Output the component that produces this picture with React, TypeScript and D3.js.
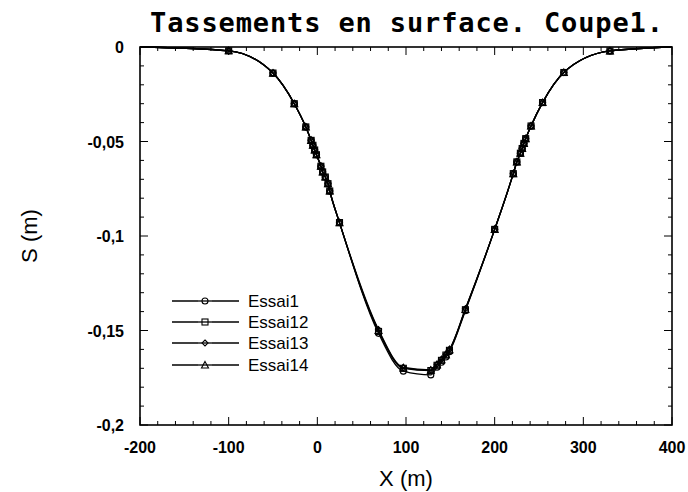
import React from 'react';
import * as d3 from 'd3';

// Surface settlement profiles, section 1
const xPositions = [
  -200, -100, -50, -26, -13, -7, -5, -3, -1, 4, 6, 9, 12, 14, 25, 69, 97, 128,
  135, 140, 145, 149, 167, 200, 221, 225, 229, 231, 233, 235, 241, 254, 278, 330, 400,
];

const essai1 = [
  0, -0.002, -0.0138, -0.03, -0.0423, -0.0494, -0.052, -0.0545, -0.057, -0.0631, -0.0661,
  -0.0688, -0.0723, -0.0762, -0.0929, -0.1515, -0.1715, -0.1735, -0.1694, -0.1668, -0.164,
  -0.1612, -0.1395, -0.0965, -0.067, -0.0608, -0.0562, -0.0537, -0.051, -0.0485, -0.0418,
  -0.0294, -0.0135, -0.0021, 0,
];
const essai12 = [
  0, -0.002, -0.0138, -0.03, -0.0423, -0.0494, -0.052, -0.0545, -0.057, -0.0631, -0.0661,
  -0.0688, -0.0723, -0.0762, -0.0929, -0.1505, -0.17, -0.1712, -0.1684, -0.1658, -0.163,
  -0.1605, -0.139, -0.0965, -0.067, -0.0608, -0.0562, -0.0537, -0.051, -0.0485, -0.0418,
  -0.0294, -0.0135, -0.0021, 0,
];
const essai13 = [
  0, -0.002, -0.0138, -0.03, -0.0423, -0.0494, -0.052, -0.0545, -0.057, -0.0631, -0.0661,
  -0.0688, -0.0723, -0.0762, -0.0929, -0.1495, -0.1695, -0.1708, -0.1678, -0.1652, -0.1625,
  -0.16, -0.1385, -0.0965, -0.067, -0.0608, -0.0562, -0.0537, -0.051, -0.0485, -0.0418,
  -0.0294, -0.0135, -0.0021, 0,
];
const essai14 = [
  0, -0.002, -0.0138, -0.03, -0.0423, -0.0494, -0.052, -0.0545, -0.057, -0.0631, -0.0661,
  -0.0688, -0.0723, -0.0762, -0.0929, -0.15, -0.1698, -0.171, -0.1681, -0.1655, -0.1628,
  -0.1602, -0.1388, -0.0965, -0.067, -0.0608, -0.0562, -0.0537, -0.051, -0.0485, -0.0418,
  -0.0294, -0.0135, -0.0021, 0,
];

const seriesNames = ['Essai1', 'Essai12', 'Essai13', 'Essai14'];
const seriesValues = [essai1, essai12, essai13, essai14];
const seriesSymbols = ['circle', 'square', 'diamond', 'triangle'];

const xTicks = [-200, -100, 0, 100, 200, 300, 400];
const yTicks = [0, -0.05, -0.1, -0.15, -0.2];
const yTickLabels = ['0', '-0,05', '-0,1', '-0,15', '-0,2'];

const title = 'Tassements en surface. Coupe1.';

const width = 688;
const height = 492;
const margin = { top: 47, right: 16, bottom: 67, left: 140 };

function Marker({ kind, x, y }: { kind: string; x: number; y: number }) {
  const s = 3;
  const common = { fill: 'none', stroke: '#000', strokeWidth: 1.1 };
  if (kind === 'circle') return <circle cx={x} cy={y} r={s} {...common} />;
  if (kind === 'square')
    return <rect x={x - s} y={y - s} width={2 * s} height={2 * s} {...common} />;
  if (kind === 'diamond')
    return (
      <path d={`M${x},${y - s}L${x + s},${y}L${x},${y + s}L${x - s},${y}Z`} {...common} />
    );
  return (
    <path
      d={`M${x},${y - s - 0.5}L${x + s + 0.5},${y + s}L${x - s - 0.5},${y + s}Z`}
      {...common}
    />
  );
}

export default function App() {
  const innerW = width - margin.left - margin.right;
  const innerH = height - margin.top - margin.bottom;

  const x = d3.scaleLinear().domain([-200, 400]).range([margin.left, margin.left + innerW]);
  const y = d3.scaleLinear().domain([-0.2, 0]).range([margin.top + innerH, margin.top]);

  const line = d3
    .line<number>()
    .x((_, i) => x(xPositions[i]))
    .y((d) => y(d))
    .curve(d3.curveMonotoneX);

  const xMinor = d3.range(-200, 401, 20);
  const yMinor = d3.range(0, 21).map((k) => -k * 0.01);

  const x0 = margin.left;
  const x1 = margin.left + innerW;
  const y0 = margin.top;
  const y1 = margin.top + innerH;

  const legendY = [301, 322, 343, 365];

  return (
    <svg width={width} height={height} style={{ position: 'absolute', left: 0, top: 0, background: '#fff' }}>
      <text
        x={150}
        y={32}
        fontFamily="DejaVu Sans Mono"
        fontWeight="bold"
        fontSize={27}
        textLength={513}
      >
        {title}
      </text>

      {/* ticks, inward on all four sides */}
      <g stroke="#000" strokeWidth={1}>
        {xMinor.map((t) => {
          const len = t % 100 === 0 ? 8 : 4;
          return (
            <g key={'xt' + t}>
              <line x1={x(t)} x2={x(t)} y1={y1} y2={y1 - len} />
              <line x1={x(t)} x2={x(t)} y1={y0} y2={y0 + len} />
            </g>
          );
        })}
        {yMinor.map((t, i) => {
          const len = i % 5 === 0 ? 8 : 4;
          return (
            <g key={'yt' + i}>
              <line x1={x0} x2={x0 + len} y1={y(t)} y2={y(t)} />
              <line x1={x1} x2={x1 - len} y1={y(t)} y2={y(t)} />
            </g>
          );
        })}
      </g>
      <rect x={x0} y={y0} width={innerW} height={innerH} fill="none" stroke="#000" strokeWidth={1.6} />

      {/* tick labels */}
      <g fontFamily="Liberation Sans, Arial, sans-serif" fontSize={16} fontWeight="bold">
        {xTicks.map((t) => (
          <text key={'xl' + t} x={x(t)} y={y1 + 28} textAnchor="middle">
            {t}
          </text>
        ))}
        {yTicks.map((t, i) => (
          <text key={'yl' + i} x={x0 - 16} y={y(t) + 6} textAnchor="end">
            {yTickLabels[i]}
          </text>
        ))}
      </g>

      <text
        x={(x0 + x1) / 2}
        y={486}
        textAnchor="middle"
        fontFamily="Liberation Sans, Arial, sans-serif"
        fontSize={22}
      >
        X (m)
      </text>
      <text
        transform={`translate(37,${(y0 + y1) / 2}) rotate(-90)`}
        textAnchor="middle"
        fontFamily="Liberation Sans, Arial, sans-serif"
        fontSize={22}
      >
        S (m)
      </text>

      {/* curves */}
      {seriesValues.map((vals, si) => (
        <path key={'l' + si} d={line(vals) ?? ''} fill="none" stroke="#000" strokeWidth={1.3} />
      ))}
      {seriesValues.map((vals, si) =>
        vals.map((v, i) =>
          xPositions[i] > -200 && xPositions[i] < 400 ? (
            <Marker key={`m${si}-${i}`} kind={seriesSymbols[si]} x={x(xPositions[i])} y={y(v)} />
          ) : null
        )
      )}

      {/* legend */}
      {seriesNames.map((name, i) => (
        <g key={'lg' + name}>
          <line x1={172} x2={239} y1={legendY[i]} y2={legendY[i]} stroke="#000" strokeWidth={1.3} />
          <rect x={198} y={legendY[i] - 4} width={14} height={8} fill="#fff" stroke="none" />
          <line x1={198} x2={212} y1={legendY[i]} y2={legendY[i]} stroke="#000" strokeWidth={1.3} />
          <Marker kind={seriesSymbols[i]} x={205} y={legendY[i]} />
          <text
            x={248}
            y={legendY[i] + 6}
            fontFamily="Liberation Sans, Arial, sans-serif"
            fontSize={17}
          >
            {name}
          </text>
        </g>
      ))}
    </svg>
  );
}
